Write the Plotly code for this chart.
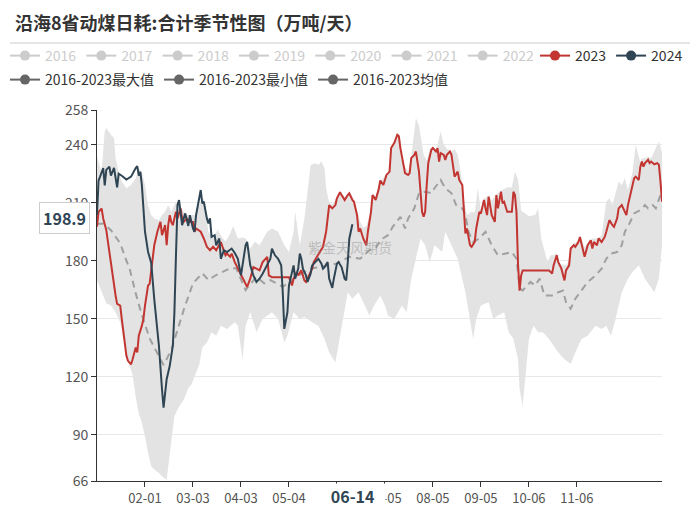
import pandas as pd
import plotly.graph_objects as go

# ---------------- data ----------------
CATS = pd.date_range("2024-01-01", "2024-12-31", freq="D").strftime("%m-%d").tolist()
X_TICKS = ["02-01", "03-03", "04-03", "05-04", "06-04", "07-05", "08-05", "09-05", "10-06", "11-06"]
X_TICK_TEXT = ["02-01", "03-03", "04-03", "05-04", "", "07-05", "08-05", "09-05", "10-06", "11-06"]
Y_TICKS = [66, 90, 120, 150, 180, 210, 240, 258]

INACTIVE_YEARS = ["2016", "2017", "2018", "2019", "2020", "2021", "2022"]

# day-of-year index (0 = 01-01) and values
day_2024 = [0, 1, 2, 4, 5, 6, 8, 9, 11, 13, 14, 16, 19, 22, 25, 26, 27, 28, 29, 31, 33, 35, 37, 40, 42, 43, 45, 47, 49, 50,
            51, 52, 53, 54, 55, 56, 57, 59, 60, 62, 63, 64, 66, 67, 68, 69, 71, 72, 73, 74, 76, 77, 79, 80, 82, 84, 87, 89, 91, 93,
            96, 97, 99, 101, 103, 105, 107, 110, 112, 113, 115, 117, 118, 119, 120, 121, 123, 124, 126, 127, 128, 130, 131, 132, 133, 135, 136, 138, 139, 141,
            143, 145, 146, 147, 149, 150, 152, 153, 155, 156, 158, 160, 161, 162, 163, 165]
val_2024 = [203.7, 221.5, 223.5, 228, 219, 227, 228.7, 224, 228, 218, 225, 224, 222, 223.5, 228, 229, 224, 226, 219, 195,
            184.5, 179, 160, 136, 113.5, 104, 118.7, 125.6, 136, 153, 182.5, 208.8, 211.4, 203.6, 198.4, 201.9, 204.5, 198, 203.6, 196.7,
            195, 203.6, 212, 216.6, 209.7, 210.5, 201.9, 199.3, 201.9, 192.3, 193.2, 188, 191.5, 181, 185.4, 184.5, 186.3, 184, 181, 172.4,
            188, 189.7, 177.6, 172.4, 169, 170.7, 173.3, 177.6, 181, 186.3, 182.8, 181, 179.3, 177.6, 163.7, 144.7, 153.3, 167.2, 174.1, 177.6,
            170.7, 175.9, 183.7, 181, 175.9, 172.4, 169, 173.3, 177.6, 179.3, 181, 178.5, 175.9, 176.7, 179.3, 170.7, 165.9, 170.7, 178.5, 179.3,
            176.7, 170.7, 169.8, 179.3, 191.5, 198.9]

day_2023 = [0, 1, 3, 4, 6, 8, 10, 12, 13, 15, 16, 18, 19, 20, 22, 23, 24, 25, 26, 27, 29, 30, 31, 33, 34, 36, 37, 39, 41, 42,
            43, 44, 45, 46, 47, 48, 49, 50, 51, 52, 54, 55, 56, 58, 60, 62, 63, 64, 67, 69, 71, 73, 75, 77, 79, 80, 83, 84, 86, 87,
            89, 91, 93, 95, 97, 99, 101, 103, 105, 107, 110, 111, 113, 119, 124, 126, 127, 129, 130, 132, 134, 135, 137, 139, 140, 142, 144, 146, 148, 149,
            150, 152, 154, 155, 157, 158, 160, 162, 163, 165, 166, 168, 169, 170, 172, 174, 175, 177, 178, 180, 182, 183, 185, 187, 189, 190, 192, 194, 195, 196,
            198, 199, 201, 202, 203, 205, 206, 208, 209, 210, 211, 212, 213, 214, 216, 217, 219, 220, 221, 222, 224, 225, 226, 228, 229, 231, 233, 234, 236, 237,
            238, 239, 241, 242, 244, 245, 247, 248, 250, 251, 252, 253, 254, 255, 257, 258, 259, 261, 262, 263, 265, 268, 269, 270, 271, 272, 273, 274, 275, 292,
            294, 295, 297, 298, 300, 302, 303, 305, 306, 308, 309, 311, 312, 314, 315, 317, 319, 320, 321, 323, 324, 326, 328, 329, 331, 333, 334, 336, 337, 339,
            340, 342, 343, 345, 347, 348, 350, 351, 352, 353, 354, 356, 357, 358, 360, 362, 363, 364, 365]
val_2023 = [197.6, 205.3, 207, 201.9, 195.8, 184.5, 170.7, 162, 157.7, 156.8, 149.9, 137.7, 130.8, 128.2, 126.4, 129, 132.5, 135.1, 132.5, 141.2,
            146.4, 149.9, 156.8, 167.2, 168, 182.8, 188, 195, 200.1, 193.2, 195.8, 198.4, 188, 198.4, 203.6, 200.1, 198.4, 202.8, 205.3, 201.9,
            207.1, 201.9, 200.1, 201.9, 200.1, 200.1, 195, 196.7, 195, 191.5, 187.2, 185.4, 187.2, 185.4, 188, 189.7, 182.8, 183.7, 182, 183.7,
            179.3, 176, 172.4, 169, 166.4, 170.7, 176.7, 175.9, 175, 179.3, 182, 172.4, 171.5, 171.5, 171.5, 167.2, 170.7, 174.1, 172.4, 175,
            169.8, 169, 172.4, 175.9, 179.3, 182, 184.5, 187.2, 195, 203.6, 208.8, 207.1, 208.8, 212.3, 215.4, 214, 211.4, 214, 214.9, 211.4,
            210.5, 203.6, 195, 196.7, 191.5, 188, 195, 205.3, 214, 211.5, 217, 221.5, 219.2, 224.4, 226.1, 238.3, 240.9, 245.2, 244.4, 238.3,
            229.6, 225.3, 224.4, 225.3, 233.1, 234.8, 236.5, 226.1, 215.7, 205.3, 202.8, 205.3, 219.2, 230.5, 237.4, 238.3, 236.5, 238.3, 231.3, 235.7,
            234.8, 232.2, 234.8, 236.5, 234.8, 223.5, 226.1, 221.8, 219.2, 205.3, 194.1, 196.7, 188, 187.2, 189.7, 196.7, 205.3, 204.4, 211.4, 207.1,
            203.6, 213.1, 208.8, 203.6, 200.1, 214, 207.1, 215.7, 209.7, 210.5, 205.3, 205.3, 215.7, 214, 205, 178, 164.5, 172.4, 175, 175,
            173.3, 177.6, 182.8, 179.3, 175.9, 169.8, 175, 177.6, 186.3, 188, 187.2, 189.7, 192.3, 186.3, 182, 188, 190.6, 186.3, 189.7, 188,
            191.5, 189.7, 192.3, 195, 201, 198.4, 197.5, 201.9, 207.1, 208.8, 207.1, 203.6, 208.8, 216.6, 222.7, 223.5, 221.8, 228.7, 231.3, 228.7,
            230.5, 232.2, 230.5, 231.3, 229.9, 230.5, 229.6, 221, 210.5]

day_mean = [0, 4, 9, 13, 15, 19, 21, 25, 29, 34, 39, 43, 48, 52, 56, 62, 68, 72, 77, 86,
            90, 96, 103, 108, 112, 120, 129, 138, 146, 155, 163, 170, 176, 180, 183, 188, 191, 196, 199, 201,
            205, 208, 212, 216, 218, 222, 225, 229, 232, 236, 238, 240, 243, 247, 251, 255, 259, 264, 268, 271,
            273, 275, 280, 283, 286, 289, 294, 298, 301, 303, 306, 309, 313, 317, 322, 326, 329, 332, 336, 339,
            341, 344, 347, 351, 354, 356, 359, 361, 364, 365]
val_mean = [199, 199.3, 195.8, 191.5, 189, 180, 176.1, 163.1, 151.9, 139.8, 131.7, 126, 133.8, 144.1, 154.5, 168.3, 173.5, 170, 172.6, 176.1,
            176, 164.8, 171.7, 168.3, 170, 166.5, 171.7, 176, 176.9, 178.6, 182, 181, 185.5, 186.3, 190.7, 193.2, 197.5, 202.7, 196.7, 201.9,
            207.1, 214.9, 215.7, 214.9, 217.5, 221.8, 217.5, 214.9, 208.8, 207.1, 203.6, 195, 189.7, 191.5, 195, 188, 182.8, 183.7, 184.5, 181,
            166, 164.6, 169, 167.2, 170.7, 162, 162, 163.7, 164.6, 158.5, 155.1, 160.3, 164.6, 169, 172.4, 175.9, 181, 183.7, 184.5, 188,
            195, 199.3, 204.5, 206.2, 208.8, 207.1, 208.8, 207.1, 214, 212]

day_max = [0, 3, 5, 6, 9, 11, 12, 14, 16, 19, 22, 25, 27, 29, 31, 33, 35, 37, 40, 42,
           44, 46, 48, 51, 54, 57, 59, 63, 67, 69, 72, 75, 78, 80, 83, 86, 88, 91, 94, 96,
           99, 102, 105, 110, 113, 117, 119, 121, 124, 127, 128, 129, 131, 134, 136, 138, 141, 143, 145, 147,
           148, 150, 152, 155, 157, 158, 160, 163, 165, 168, 170, 172, 174, 177, 178, 180, 182, 185, 187, 189,
           190, 192, 194, 195, 196, 198, 201, 203, 205, 206, 208, 210, 211, 213, 215, 217, 219, 220, 222, 224,
           226, 229, 231, 233, 235, 237, 239, 242, 244, 246, 248, 250, 253, 255, 258, 261, 263, 265, 268, 270,
           272, 274, 279, 283, 285, 287, 291, 293, 295, 297, 298, 300, 303, 305, 306, 308, 311, 312, 315, 317,
           320, 323, 326, 329, 331, 333, 335, 337, 339, 341, 343, 346, 348, 351, 352, 354, 356, 358, 361, 363, 365]
val_max = [233.8, 226, 247, 248.7, 245.2, 243.5, 233, 226, 221, 217.5, 219.2, 222.7, 227.9, 226.1, 219.2, 208.8, 203.6, 201.9, 201, 203.6,
           205.3, 208.8, 205.3, 210.5, 208, 204, 203.6, 203.6, 210.5, 212.3, 195, 192, 196, 193, 190, 194, 198, 191.5, 192, 191.5,
           186.3, 190, 188, 195, 196.7, 195, 191.5, 188, 184.5, 195, 205.3, 200, 188, 201.9, 217.5, 229.6, 230.5, 229.6, 231.3, 227.9,
           217.5, 210, 209, 213, 216, 215, 213, 215.5, 213, 206, 200, 197, 198, 206, 215, 213, 220, 223, 225, 227,
           239, 241.5, 245.8, 245, 239, 230, 226.1, 234, 247, 253.9, 250, 240, 234.8, 232, 237.8, 239, 237, 240, 247, 240,
           238, 236.5, 238, 234.8, 226.1, 212.3, 203.6, 205.3, 205, 217.5, 206, 212, 214, 211, 214.5, 216.2, 217, 218, 218, 226,
           222, 206, 203, 203.6, 207, 191.5, 179.3, 182.8, 182.8, 184, 180, 178, 177.6, 180, 187, 189, 190.5, 193, 187, 189,
           191.5, 191.5, 193, 210.5, 212.3, 208.8, 215, 221, 219, 222.7, 216.6, 226.1, 240, 231, 233, 233, 234, 233, 238.3, 241.7, 236]

day_min = [0, 3, 6, 9, 12, 15, 17, 18, 19, 20, 21, 23, 25, 27, 29, 31, 33, 35, 37, 40,
           42, 45, 47, 49, 50, 53, 56, 59, 61, 63, 66, 68, 71, 74, 77, 80, 84, 89, 91, 94,
           96, 99, 103, 107, 113, 117, 121, 123, 127, 131, 134, 139, 143, 147, 150, 154, 156, 158, 160, 162,
           165, 169, 173, 176, 179, 183, 186, 188, 192, 197, 200, 203, 205, 209, 212, 215, 218, 223, 225, 227,
           230, 233, 238, 241, 243, 245, 248, 253, 256, 259, 263, 266, 269, 272, 273, 275, 277, 279, 282, 285,
           288, 292, 295, 298, 302, 306, 309, 313, 317, 322, 326, 329, 332, 335, 339, 343, 346, 350, 354, 357,
           360, 363, 365]
val_min = [170, 163.7, 158, 156.8, 153.3, 148, 140, 136, 130, 127.5, 125.5, 121, 109.6, 100.9, 96, 89.2, 80.5, 73.6, 71.9, 70.2,
           68.4, 66.5, 80, 95, 99.6, 104.4, 108, 114, 116, 120, 126, 135, 137.7, 143, 141.2, 146.4, 144.7, 148.2, 146.4, 129,
           146.4, 153.3, 143, 149.9, 153.3, 149.9, 137.7, 141.2, 153.3, 149.9, 151, 148.2, 146.4, 139.5, 132.5, 127.3, 136, 146.4, 153.3, 163.7,
           160.3, 163.7, 156.8, 151.6, 156.8, 162, 156.8, 151.6, 149.9, 156.8, 153.3, 170.7, 177.6, 191.5, 188, 179.3, 188, 184.5, 195, 191.5,
           186.3, 181, 163.7, 148.2, 139.5, 149.9, 156.8, 158.5, 149.9, 151.6, 153.3, 143, 139.5, 129, 113.5, 104.8, 122.1, 139.5, 146.4, 143,
           143, 139.5, 136, 132.5, 129, 126.5, 132.5, 139.5, 141.2, 146.4, 144.7, 146.4, 141.2, 149.9, 163.7, 170.7, 174.1, 177.6, 170.7, 167.2,
           163.7, 170.7, 188]

for d, v in [(day_2024, val_2024), (day_2023, val_2023), (day_mean, val_mean), (day_max, val_max), (day_min, val_min)]:
    assert len(d) == len(v), (len(d), len(v))

# ---------------- style ----------------
FONT = "Noto Sans CJK SC"
RED = "#c23531"
NAVY = "#2f4554"
BAND = "#e3e3e3"
MEAN = "#a0a0a0"
LEG_GREY = "#666666"
INACTIVE = "#cccccc"


def xcat(days):
    return [CATS[d] for d in days]


fig = go.Figure()

fig.add_trace(go.Scatter(x=xcat(day_min), y=val_min, mode="lines", line=dict(width=0, color=BAND),
                         showlegend=False, hoverinfo="skip"))
fig.add_trace(go.Scatter(x=xcat(day_max), y=val_max, mode="lines", line=dict(width=0, color=BAND),
                         fill="tonexty", fillcolor=BAND, showlegend=False, hoverinfo="skip"))
fig.add_trace(go.Scatter(x=xcat(day_mean), y=val_mean, mode="lines",
                         line=dict(width=2, color=MEAN, dash="7px,5px"), showlegend=False))
fig.add_trace(go.Scatter(x=xcat(day_2023), y=val_2023, mode="lines",
                         line=dict(width=2, color=RED), showlegend=False))
fig.add_trace(go.Scatter(x=xcat(day_2024), y=val_2024, mode="lines",
                         line=dict(width=2, color=NAVY), showlegend=False))

# legend entries
for yr in INACTIVE_YEARS:
    fig.add_trace(go.Scatter(x=[None], y=[None], mode="lines+markers",
                             name=f'<span style="color:{INACTIVE}">{yr}</span>',
                             line=dict(color=INACTIVE, width=2), marker=dict(size=10, color=INACTIVE),
                             legend="legend"))
for yr, c in [("2023", RED), ("2024", NAVY)]:
    fig.add_trace(go.Scatter(x=[None], y=[None], mode="lines+markers", name=yr,
                             line=dict(color=c, width=2), marker=dict(size=10, color=c), legend="legend3"))
for nm in ["2016-2023最大值", "2016-2023最小值", "2016-2023均值"]:
    fig.add_trace(go.Scatter(x=[None], y=[None], mode="lines+markers", name=nm,
                             line=dict(color=LEG_GREY, width=2), marker=dict(size=10, color=LEG_GREY),
                             legend="legend2"))

legend_common = dict(orientation="h", xref="container", yref="container", xanchor="left", yanchor="top",
                     font=dict(size=14, color="#333", family=FONT), bgcolor="rgba(0,0,0,0)",
                     itemwidth=30, itemclick=False, itemdoubleclick=False, traceorder="normal")

fig.update_layout(
    width=700, height=508,
    margin=dict(l=97, r=38, t=110, b=27, autoexpand=False),
    paper_bgcolor="white", plot_bgcolor="white",
    font=dict(family=FONT, color="#444"),
    title=dict(text="<b>沿海8省动煤日耗:合计季节性图（万吨/天）</b>", xref="container", yref="container",
               x=15 / 700, xanchor="left", y=1 - 24 / 508, yanchor="middle",
               font=dict(size=18, color="#333", family=FONT)),
    legend=dict(**legend_common, x=5 / 700, y=1 - 40 / 508),
    legend3=dict(**legend_common, x=535 / 700, y=1 - 40 / 508),
    legend2=dict(**legend_common, x=5 / 700, y=1 - 64 / 508),
    xaxis=dict(type="category", categoryorder="array", categoryarray=CATS, range=[0, 365],
               tickmode="array", tickvals=X_TICKS, ticktext=X_TICK_TEXT,
               showgrid=False, showline=True, linecolor="#333", linewidth=1,
               ticks="outside", ticklen=5, tickcolor="#333",
               tickfont=dict(size=13, color="#555", family=FONT), zeroline=False),
    yaxis=dict(range=[66, 258], tickmode="array", tickvals=Y_TICKS,
               showgrid=True, gridcolor="#e8e8e8", gridwidth=1,
               showline=True, linecolor="#333", linewidth=1,
               ticks="outside", ticklen=5, tickcolor="#333",
               tickfont=dict(size=14, color="#555", family=FONT), zeroline=False),
    showlegend=True,
)

# line under title
fig.add_shape(type="line", xref="paper", yref="paper",
              x0=(10 - 97) / 565, x1=(690 - 97) / 565, y0=(481 - 43) / 371, y1=(481 - 43) / 371,
              line=dict(color="#cccccc", width=1))

# watermark
fig.add_annotation(text="紫金天风期货", xref="paper", yref="paper", x=(350 - 97) / 565, y=(481 - 247) / 371,
                   showarrow=False, font=dict(size=14, color="rgba(140,140,140,0.45)", family=FONT))

# axis pointer labels
fig.add_annotation(text="<b>198.9</b>", xref="paper", yref="y", x=0, y=198.9, xanchor="right", yanchor="middle",
                   xshift=-7, yshift=6, showarrow=False, bgcolor="white", bordercolor="#cccccc", borderwidth=1,
                   borderpad=3, font=dict(size=16, color=NAVY, family=FONT))
fig.add_annotation(text="&nbsp;&nbsp;&nbsp;<b>06-14</b>&nbsp;&nbsp;&nbsp;", xref="x", yref="paper", x="06-14", y=0,
                   xanchor="center", yanchor="top", yshift=-2, showarrow=False, bgcolor="white",
                   borderpad=0, font=dict(size=16, color=NAVY, family=FONT))

fig.write_html("out.html")
